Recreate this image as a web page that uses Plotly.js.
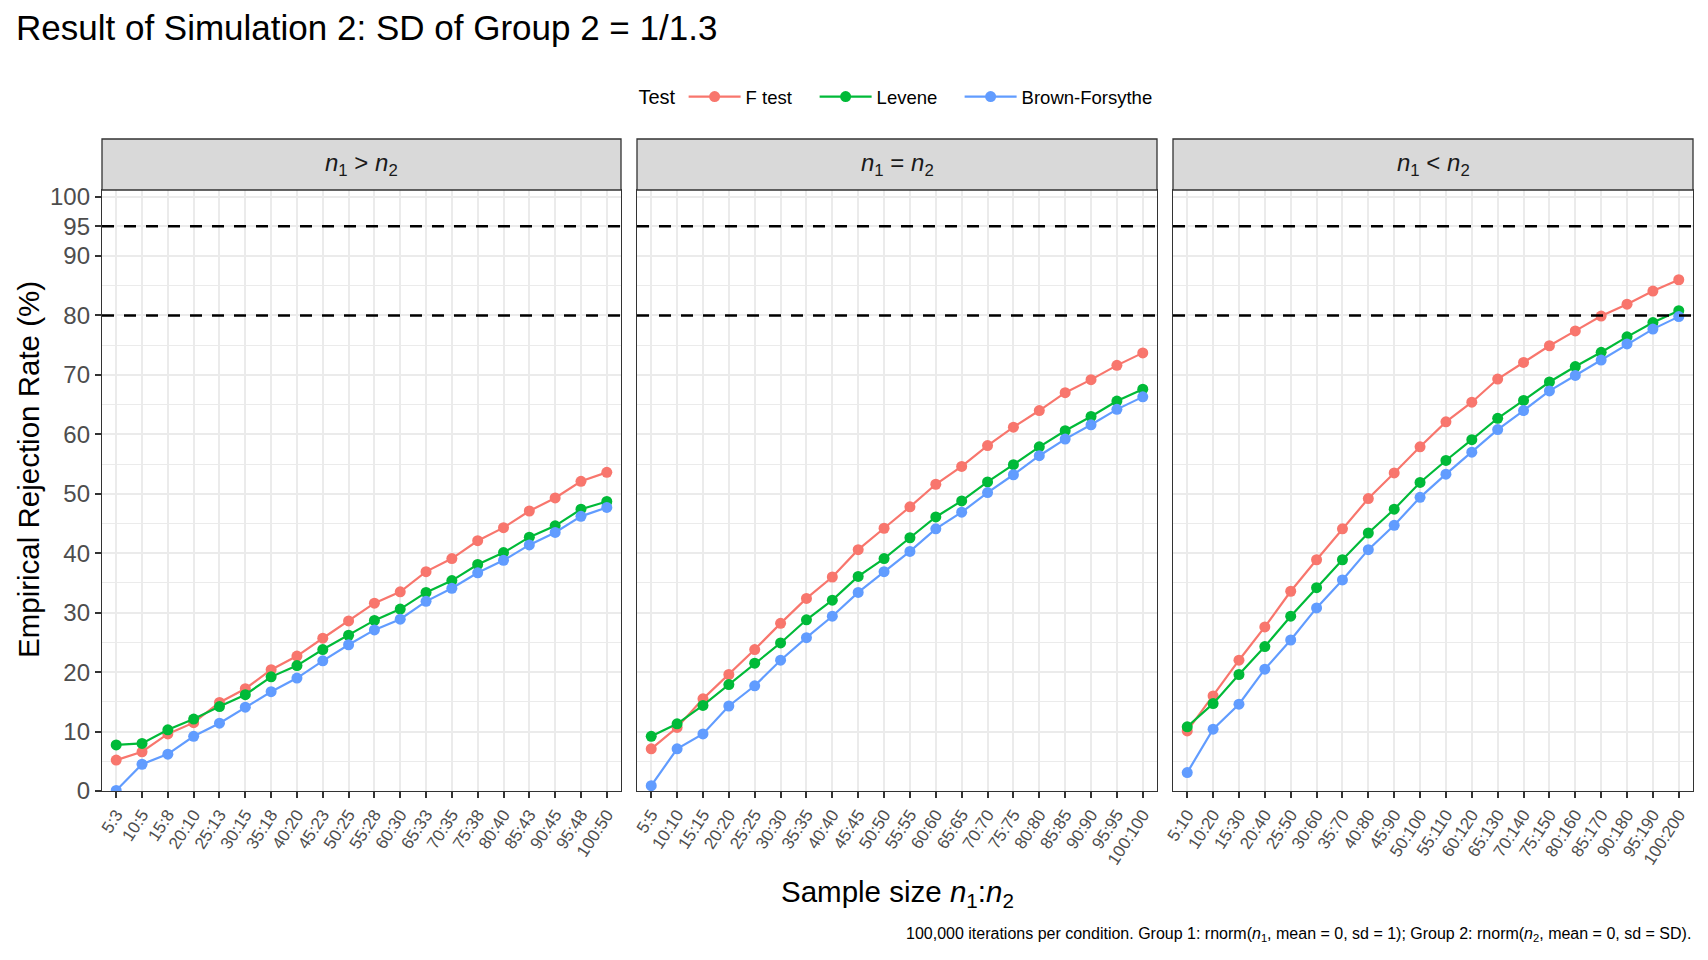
<!DOCTYPE html>
<html>
<head>
<meta charset="utf-8">
<script src="https://cdn.plot.ly/plotly-3.0.1.min.js"></script>
<style>
  html, body { margin: 0; padding: 0; background: #fff; }
  #chart { width: 1708px; height: 960px; }
</style>
</head>
<body>
<div id="chart"></div>
<script>
// sample size labels per facet
var labelsGreater = ['5:3','10:5','15:8','20:10','25:13','30:15','35:18','40:20','45:23','50:25',
                     '55:28','60:30','65:33','70:35','75:38','80:40','85:43','90:45','95:48','100:50'];
var labelsEqual = ['5:5','10:10','15:15','20:20','25:25','30:30','35:35','40:40','45:45','50:50',
                   '55:55','60:60','65:65','70:70','75:75','80:80','85:85','90:90','95:95','100:100'];
var labelsLess = ['5:10','10:20','15:30','20:40','25:50','30:60','35:70','40:80','45:90','50:100',
                  '55:110','60:120','65:130','70:140','75:150','80:160','85:170','90:180','95:190','100:200'];

// rejection rates (%)
var fGreater = [5.2, 6.6, 9.6, 11.5, 14.9, 17.2, 20.4, 22.7, 25.7, 28.6,
                31.6, 33.5, 36.9, 39.1, 42.1, 44.3, 47.1, 49.3, 52.1, 53.6];
var leveneGreater = [7.75, 8.0, 10.3, 12.1, 14.2, 16.2, 19.2, 21.1, 23.8, 26.2,
                     28.7, 30.6, 33.4, 35.4, 38.1, 40.1, 42.7, 44.6, 47.4, 48.7];
var bfGreater = [0.1, 4.5, 6.2, 9.2, 11.4, 14.1, 16.7, 19.0, 21.9, 24.6,
                 27.1, 28.9, 31.9, 34.1, 36.7, 38.8, 41.4, 43.5, 46.2, 47.7];

var fEqual = [7.1, 10.7, 15.5, 19.6, 23.8, 28.2, 32.4, 36.0, 40.6, 44.2,
              47.8, 51.6, 54.6, 58.1, 61.2, 64.0, 67.0, 69.2, 71.6, 73.7];
var leveneEqual = [9.2, 11.3, 14.4, 17.9, 21.5, 24.9, 28.8, 32.1, 36.1, 39.1,
                   42.6, 46.1, 48.8, 52.0, 54.9, 57.9, 60.6, 63.0, 65.6, 67.6];
var bfEqual = [0.9, 7.1, 9.6, 14.3, 17.7, 22.0, 25.8, 29.4, 33.4, 36.9,
               40.3, 44.1, 46.9, 50.2, 53.2, 56.4, 59.2, 61.6, 64.2, 66.3];

var fLess = [10.1, 16.0, 22.0, 27.6, 33.6, 38.9, 44.1, 49.2, 53.5, 57.9,
             62.1, 65.4, 69.3, 72.1, 74.9, 77.4, 79.9, 81.9, 84.1, 86.0];
var leveneLess = [10.8, 14.7, 19.6, 24.3, 29.4, 34.2, 38.9, 43.4, 47.4, 51.9,
                  55.6, 59.1, 62.7, 65.7, 68.8, 71.4, 73.8, 76.4, 78.8, 80.8];
var bfLess = [3.1, 10.4, 14.6, 20.5, 25.4, 30.8, 35.5, 40.6, 44.7, 49.4,
              53.3, 57.0, 60.8, 64.0, 67.3, 69.9, 72.5, 75.2, 77.7, 79.8];

var testNames = ['F test', 'Levene', 'Brown-Forsythe'];
var testColors = ['#F8766D', '#00BA38', '#619CFF'];
var facetLabels = ['<i>n</i><sub>1</sub> &gt; <i>n</i><sub>2</sub>',
                   '<i>n</i><sub>1</sub> = <i>n</i><sub>2</sub>',
                   '<i>n</i><sub>1</sub> &lt; <i>n</i><sub>2</sub>'];
var yTicks = [0, 10, 20, 30, 40, 50, 60, 70, 80, 90, 95, 100];
var yMinor = [5, 15, 25, 35, 45, 55, 65, 75, 85];
var refLines = [80, 95];

var facets = [
  { labels: labelsGreater, series: [fGreater, leveneGreater, bfGreater] },
  { labels: labelsEqual,   series: [fEqual, leveneEqual, bfEqual] },
  { labels: labelsLess,    series: [fLess, leveneLess, bfLess] }
];

var W = 1708, H = 960;
var FONT = 'Liberation Sans, Arial, Helvetica, sans-serif';
// panel pixel boxes
var panelX = [[102, 621], [637, 1157], [1173, 1693]];
var panelTop = 190, panelBottom = 791, stripTop = 139;
var legendWidths = [64, 78, 0];
function px(x) { return x / W; }
function py(y) { return 1 - y / H; }

var traces = [];
facets.forEach(function (f, p) {
  var suffix = p === 0 ? '' : String(p + 1);
  f.series.forEach(function (vals, t) {
    var tr = {
      x: f.labels, y: vals,
      xaxis: 'x' + suffix, yaxis: 'y' + suffix,
      type: 'scatter', mode: 'lines+markers',
      name: testNames[t], legendgroup: testNames[t],
      showlegend: p === 0,
      line: { color: testColors[t], width: 2.2 },
      marker: { color: testColors[t], size: 11 },
      hoverinfo: 'x+y+name'
    };
    if (legendWidths[t]) tr.legendwidth = legendWidths[t];
    traces.push(tr);
  });
});

var layout = {
  width: W, height: H,
  margin: { l: 0, r: 0, t: 0, b: 0 },
  paper_bgcolor: '#fff', plot_bgcolor: '#fff',
  font: { family: FONT, color: '#000' },
  title: {
    text: 'Result of Simulation 2: SD of Group 2 = 1/1.3',
    x: px(16), xanchor: 'left', y: py(28), yanchor: 'middle',
    font: { size: 35, color: '#000' }
  },
  showlegend: true,
  legend: {
    orientation: 'h', x: px(897), xanchor: 'center', y: py(97), yanchor: 'middle',
    title: { text: 'Test', font: { size: 20 }, side: 'left' },
    font: { size: 18.5, color: '#000' }, bgcolor: 'rgba(0,0,0,0)',
    itemwidth: 52, traceorder: 'normal'
  },
  shapes: [], annotations: []
};

facets.forEach(function (f, p) {
  var suffix = p === 0 ? '' : String(p + 1);
  var dom = [px(panelX[p][0]), px(panelX[p][1])];
  layout['xaxis' + suffix] = {
    domain: dom, anchor: 'y' + suffix, type: 'category',
    categoryorder: 'array', categoryarray: f.labels,
    range: [-0.55, f.labels.length - 0.45],
    tickangle: -57, ticks: 'outside', ticklen: 6, tickwidth: 1.6, tickcolor: '#333',
    tickfont: { size: 17, color: '#4D4D4D' },
    showgrid: true, gridcolor: '#EBEBEB', gridwidth: 2,
    showline: true, mirror: true, linecolor: '#333', linewidth: 1.3,
    zeroline: false, fixedrange: true
  };
  layout['yaxis' + suffix] = {
    domain: [py(panelBottom), py(panelTop)], anchor: 'x' + suffix,
    range: [0, 101.1], tickmode: 'array', tickvals: yTicks,
    ticks: p === 0 ? 'outside' : '', ticklen: 6, tickwidth: 1.6, tickcolor: '#333',
    showticklabels: p === 0, tickfont: { size: 24, color: '#4D4D4D' },
    showgrid: true, gridcolor: '#EBEBEB', gridwidth: 2,
    minor: { tickmode: 'array', tickvals: yMinor, showgrid: true, gridcolor: '#EBEBEB', gridwidth: 1, ticks: '' },
    showline: true, mirror: true, linecolor: '#333', linewidth: 1.3,
    zeroline: false, fixedrange: true
  };
  if (p > 0) layout['yaxis' + suffix].matches = 'y';

  refLines.forEach(function (v) {
    layout.shapes.push({
      type: 'line', xref: 'x' + suffix + ' domain', yref: 'y' + suffix,
      x0: 0, x1: 1, y0: v, y1: v, layer: 'above',
      line: { color: '#000', width: 2.4, dash: '12px,10px' }
    });
  });

  // facet strip
  layout.shapes.push({
    type: 'rect', xref: 'paper', yref: 'paper',
    x0: dom[0], x1: dom[1], y0: py(panelTop), y1: py(stripTop),
    fillcolor: '#D9D9D9', line: { color: '#333', width: 1.3 }, layer: 'above'
  });
  layout.annotations.push({
    text: facetLabels[p], xref: 'paper', yref: 'paper',
    x: (dom[0] + dom[1]) / 2, y: py((panelTop + stripTop) / 2),
    xanchor: 'center', yanchor: 'middle', showarrow: false,
    font: { size: 24, color: '#1A1A1A' }
  });
});

layout.annotations.push({
  text: 'Sample size <i>n</i><sub>1</sub>:<i>n</i><sub>2</sub>',
  xref: 'paper', yref: 'paper', x: px(897.5), y: py(893),
  xanchor: 'center', yanchor: 'middle', showarrow: false,
  font: { size: 29.5, color: '#000' }
});
layout.annotations.push({
  text: 'Empirical Rejection Rate (%)',
  xref: 'paper', yref: 'paper', x: px(29), y: py(470),
  xanchor: 'center', yanchor: 'middle', textangle: -90, showarrow: false,
  font: { size: 29.5, color: '#000' }
});
layout.annotations.push({
  text: '100,000 iterations per condition. Group 1: rnorm(<i>n</i><sub>1</sub>, mean = 0, sd = 1); ' +
        'Group 2: rnorm(<i>n</i><sub>2</sub>, mean = 0, sd = SD).',
  xref: 'paper', yref: 'paper', x: px(1693), y: py(934),
  xanchor: 'right', yanchor: 'middle', showarrow: false,
  font: { size: 16, color: '#000' }
});

Plotly.newPlot('chart', traces, layout, { displayModeBar: false });
</script>
</body>
</html>
